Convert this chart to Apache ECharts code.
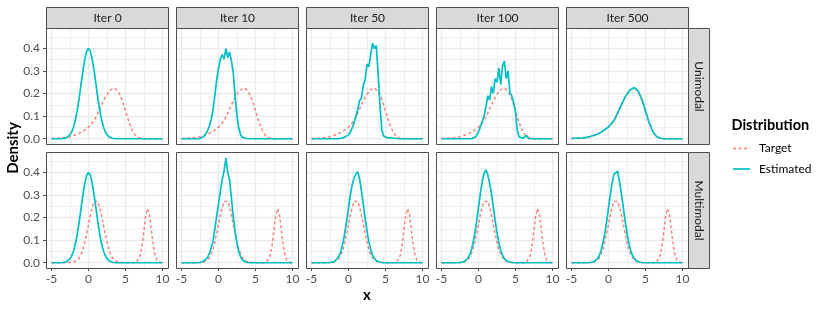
<!DOCTYPE html>
<html><head><meta charset="utf-8">
<script src="https://cdn.jsdelivr.net/npm/echarts@6/dist/echarts.min.js"></script>
<style>html,body{margin:0;padding:0;background:#fff}#c{width:824px;height:309px}</style>
</head><body><div id="c"></div>
<script>
// ---------- data ----------
const xs = [-5,-4.75,-4.5,-4.25,-4,-3.75,-3.5,-3.25,-3,-2.75,-2.5,-2.25,-2,-1.75,-1.5,-1.25,-1,-0.75,-0.5,-0.25,0,0.25,0.5,0.75,1,1.25,1.5,1.75,2,2.25,2.5,2.75,3,3.25,3.5,3.75,4,4.25,4.5,4.75,5,5.25,5.5,5.75,6,6.25,6.5,6.75,7,7.25,7.5,7.75,8,8.25,8.5,8.75,9,9.25,9.5,9.75,10];
const iterLabels = ['Iter 0','Iter 10','Iter 50','Iter 100','Iter 500'];
const rowLabels = ['Unimodal','Multimodal'];
const seriesNames = ['Target','Estimated'];
const xTicks = [-5,0,5,10];
const xMinor = [-2.5,2.5,7.5];
const yTicks = [0,0.1,0.2,0.3,0.4];
const yMinor = [0.05,0.15,0.25,0.35,0.45];

const targetUni = [
0.001,0.001,0.002,0.002,
0.003,0.003,0.004,0.005,
0.006,0.008,0.009,0.011,
0.014,0.017,0.020,0.024,
0.028,0.033,0.039,0.045,
0.051,0.059,0.069,0.082,
0.096,0.113,0.132,0.150,
0.167,0.182,0.196,0.208,
0.217,0.222,0.224,0.219,
0.209,0.194,0.174,0.150,
0.123,0.096,0.071,0.050,
0.032,0.019,0.010,0.005,
0.002,0.001,0,0,
0,0,0,0,
0,0,0,0,
0];
const targetMulti = [
0,0,0,0,
0,0,0,0,
0,0,0.001,0.001,
0.003,0.006,0.012,0.022,
0.038,0.060,0.091,0.128,
0.169,0.211,0.246,0.271,
0.279,0.271,0.246,0.211,
0.169,0.128,0.091,0.060,
0.038,0.022,0.012,0.006,
0.003,0.001,0.001,0,
0,0,0,0,
0,0.001,0.003,0.011,
0.032,0.078,0.145,0.211,
0.239,0.211,0.145,0.078,
0.032,0.011,0.003,0.001,
0];
const estUni0 = [
0,0,0,0,
0,0,0.001,0.002,
0.004,0.009,0.018,0.032,
0.054,0.086,0.130,0.183,
0.242,0.301,0.352,0.387,
0.399,0.387,0.352,0.301,
0.242,0.183,0.130,0.086,
0.054,0.032,0.018,0.009,
0.004,0.002,0.001,0,
0,0,0,0,
0,0,0,0,
0,0,0,0,
0,0,0,0,
0,0,0,0,
0,0,0,0,
0];
const estUni10 = [
0,0,0,0,
0,0,0,0,
0,0.001,0.001,0.003,
0.010,0.020,0.034,0.055,
0.085,0.125,0.190,0.258,
0.312,0.352,0.372,0.352,
0.398,0.358,0.383,0.343,
0.290,0.185,0.100,0.045,
0.016,0.006,0.002,0.001,
0,0,0,0,
0,0,0,0,
0,0,0,0,
0,0,0,0,
0,0,0,0,
0,0,0,0,
0];
const estUni50 = [
0,0,0,0,
0,0,0,0,
0,0,0,0,
0,0,0,0.001,
0.002,0.004,0.007,0.012,
0.018,0.030,0.048,0.070,
0.098,0.130,0.168,0.180,
0.236,0.262,0.330,0.318,
0.372,0.422,0.398,0.412,
0.290,0.150,0.040,0.012,
0.006,0.004,0.003,0.004,
0.012,0.002,0.001,0,
0,0,0,0,
0,0,0,0,
0,0,0,0,
0];
const estUni100 = [
0,0,0,0,
0,0,0,0,
0,0,0,0,
0,0,0,0,
0,0.002,0.006,0.015,
0.030,0.052,0.058,0.100,
0.140,0.190,0.170,0.230,
0.200,0.265,0.250,0.312,
0.240,0.322,0.343,0.265,
0.300,0.200,0.190,0.160,
0.120,0.035,0.008,0.003,
0.002,0.002,0.014,0.001,
0,0,0,0,
0,0,0,0,
0,0,0,0,
0];
const estUni500 = [
0.001,0.001,0.002,0.002,
0.003,0.004,0.004,0.006,
0.006,0.009,0.010,0.011,
0.015,0.019,0.021,0.026,
0.029,0.034,0.041,0.047,
0.052,0.060,0.071,0.082,
0.098,0.114,0.134,0.151,
0.168,0.184,0.197,0.209,
0.218,0.224,0.226,0.221,
0.210,0.193,0.175,0.151,
0.122,0.097,0.070,0.052,
0.031,0.020,0.010,0.006,
0.002,0.001,0,0,
0,0,0,0,
0,0,0,0,
0];
const estMulti0 = [
0,0,0,0,
0,0,0.001,0.002,
0.004,0.009,0.018,0.032,
0.054,0.086,0.130,0.183,
0.242,0.301,0.352,0.387,
0.399,0.387,0.352,0.301,
0.242,0.183,0.130,0.086,
0.054,0.032,0.018,0.009,
0.004,0.002,0.001,0,
0,0,0,0,
0,0,0,0,
0,0,0,0,
0,0,0,0,
0,0,0,0,
0,0,0,0,
0];
const estMulti10 = [
0,0,0,0,
0,0,0,0,
0,0,0.001,0.003,
0.007,0.013,0.022,0.040,
0.066,0.095,0.150,0.205,
0.260,0.318,0.368,0.405,
0.462,0.400,0.365,0.285,
0.200,0.135,0.085,0.048,
0.024,0.011,0.005,0.002,
0.001,0,0,0,
0,0,0,0,
0,0,0,0,
0,0,0,0,
0,0,0,0,
0,0,0,0,
0];
const estMulti50 = [
0,0,0,0,
0,0,0,0,
0,0,0.001,0.002,
0.004,0.009,0.018,0.032,
0.054,0.088,0.132,0.185,
0.243,0.300,0.345,0.375,
0.392,0.402,0.370,0.318,
0.258,0.196,0.140,0.093,
0.058,0.034,0.019,0.010,
0.005,0.002,0.001,0,
0,0,0,0,
0,0,0,0,
0,0,0,0,
0,0,0,0,
0,0,0,0,
0];
const estMulti100 = [
0,0,0,0,
0,0,0,0,
0,0,0.001,0.002,
0.004,0.008,0.017,0.031,
0.053,0.086,0.130,0.184,
0.245,0.305,0.358,0.395,
0.410,0.390,0.352,0.305,
0.246,0.186,0.133,0.088,
0.055,0.033,0.018,0.009,
0.004,0.002,0.001,0,
0,0,0,0,
0,0,0,0,
0,0,0,0,
0,0,0,0,
0,0,0,0,
0];
const estMulti500 = [
0,0,0,0,
0,0,0,0,
0,0,0.001,0.002,
0.004,0.009,0.018,0.032,
0.055,0.087,0.131,0.183,
0.243,0.302,0.355,0.392,
0.400,0.404,0.356,0.302,
0.243,0.184,0.131,0.086,
0.054,0.032,0.018,0.009,
0.004,0.002,0.001,0,
0,0,0,0,
0,0,0,0,
0,0,0,0,
0,0,0,0,
0,0,0,0,
0];

// ---------- layout ----------
const targets = [targetUni, targetMulti];
const estimates = [
  [estUni0, estUni10, estUni50, estUni100, estUni500],
  [estMulti0, estMulti10, estMulti50, estMulti100, estMulti500]
];
const colLeft = [46, 176, 306, 436, 566];
const panelW = 122;
const rowTop = [28, 152];
const panelH = 116;
const stripH = 21;
const FONT = 'Lato, "Noto Sans", sans-serif';
const RED = '#F8766D', TEAL = '#00BFC4', BORDER = '#4D4D4D';

const grids = [], xAxes = [], yAxes = [], series = [], graphics = [];
const pair = arr => xs.map((x, j) => [x, arr[j]]);
const gl = (key, v, minor) => ({ [key]: v, lineStyle: { color: '#EBEBEB', width: minor ? 0.8 : 1.4, type: 'solid' } });

for (let r = 0; r < 2; r++) {
  for (let c = 0; c < 5; c++) {
    const i = r * 5 + c;
    const bottom = r === 1, first = c === 0;
    grids.push({ left: colLeft[c], top: rowTop[r], width: panelW, height: panelH, containLabel: false });
    xAxes.push({
      gridIndex: i, type: 'value', min: -5.75, max: 10.75,
      axisLine: { show: false, onZero: false },
      splitLine: { show: false },
      axisTick: { show: bottom, customValues: xTicks, length: 3, lineStyle: { color: BORDER } },
      axisLabel: { show: bottom, customValues: xTicks, color: '#4D4D4D', fontFamily: FONT, fontSize: 12, margin: 5 }
    });
    yAxes.push({
      gridIndex: i, type: 'value', min: -0.0233, max: 0.4893,
      axisLine: { show: false, onZero: false },
      splitLine: { show: false },
      axisTick: { show: first, customValues: yTicks, length: 3, lineStyle: { color: BORDER } },
      axisLabel: { show: first, customValues: yTicks, color: '#4D4D4D', fontFamily: FONT, fontSize: 12, margin: 6,
        formatter: v => v.toFixed(1) }
    });
    series.push({
      type: 'line', xAxisIndex: i, yAxisIndex: i, data: [], silent: true, z: 0,
      markLine: {
        z: 0, silent: true, symbol: ['none', 'none'], animation: false, label: { show: false },
        emphasis: { disabled: true },
        data: [
          ...xMinor.map(v => gl('xAxis', v, true)),
          ...yMinor.map(v => gl('yAxis', v, true)),
          ...xTicks.map(v => gl('xAxis', v, false)),
          ...yTicks.map(v => gl('yAxis', v, false))
        ]
      }
    });
    series.push({
      name: seriesNames[0], type: 'line', xAxisIndex: i, yAxisIndex: i, z: 10,
      data: pair(targets[r]), showSymbol: false, symbol: 'none', animation: false, silent: true,
      lineStyle: { color: RED, width: 1.5, type: [3, 2.5], opacity: 0.9 }
    });
    series.push({
      name: seriesNames[1], type: 'line', xAxisIndex: i, yAxisIndex: i, z: 11,
      data: pair(estimates[r][c]), showSymbol: false, symbol: 'none', animation: false, silent: true,
      lineStyle: { color: TEAL, width: 1.7 }
    });
    graphics.push({ type: 'rect', z: 100, silent: true,
      shape: { x: colLeft[c] + 0.5, y: rowTop[r] + 0.5, width: panelW, height: panelH },
      style: { fill: 'none', stroke: BORDER, lineWidth: 1 } });
  }
}
for (let c = 0; c < 5; c++) {
  graphics.push({ type: 'rect', z: 100, silent: true,
    shape: { x: colLeft[c] + 0.5, y: rowTop[0] - stripH + 0.5, width: panelW, height: stripH },
    style: { fill: '#D9D9D9', stroke: BORDER, lineWidth: 1 } });
  graphics.push({ type: 'text', z: 101, silent: true,
    x: colLeft[c] + panelW / 2 + 0.5, y: rowTop[0] - stripH / 2 + 0.5,
    style: { text: iterLabels[c], fill: '#1A1A1A', font: '12px ' + FONT, textAlign: 'center', textVerticalAlign: 'middle' } });
}
const stripX = colLeft[4] + panelW;
for (let r = 0; r < 2; r++) {
  graphics.push({ type: 'rect', z: 100, silent: true,
    shape: { x: stripX + 0.5, y: rowTop[r] + 0.5, width: stripH, height: panelH },
    style: { fill: '#D9D9D9', stroke: BORDER, lineWidth: 1 } });
  graphics.push({ type: 'text', z: 101, silent: true,
    x: stripX + stripH / 2 + 0.5, y: rowTop[r] + panelH / 2 + 0.5, rotation: -Math.PI / 2,
    style: { text: rowLabels[r], fill: '#1A1A1A', font: '12px ' + FONT, textAlign: 'center', textVerticalAlign: 'middle' } });
}
graphics.push({ type: 'text', z: 101, silent: true, x: 13, y: 148, rotation: Math.PI / 2,
  style: { text: 'Density', fill: '#000', font: 'bold 15px ' + FONT, textAlign: 'center', textVerticalAlign: 'middle' } });
graphics.push({ type: 'text', z: 101, silent: true, x: 367, y: 295,
  style: { text: 'x', fill: '#000', font: 'bold 15px ' + FONT, textAlign: 'center', textVerticalAlign: 'middle' } });
graphics.push({ type: 'text', z: 101, silent: true, x: 731.5, y: 125,
  style: { text: 'Distribution', fill: '#000', font: 'bold 14.5px ' + FONT, textAlign: 'left', textVerticalAlign: 'middle' } });
graphics.push({ type: 'line', z: 101, silent: true, shape: { x1: 733, y1: 148.5, x2: 750, y2: 148.5 },
  style: { stroke: RED, lineWidth: 1.5, lineDash: [3, 2.5], opacity: 0.9 } });
graphics.push({ type: 'line', z: 101, silent: true, shape: { x1: 733, y1: 169, x2: 750, y2: 169 },
  style: { stroke: TEAL, lineWidth: 1.7 } });
graphics.push({ type: 'text', z: 101, silent: true, x: 759, y: 148.5,
  style: { text: seriesNames[0], fill: '#000', font: '12px ' + FONT, textAlign: 'left', textVerticalAlign: 'middle' } });
graphics.push({ type: 'text', z: 101, silent: true, x: 759, y: 169,
  style: { text: seriesNames[1], fill: '#000', font: '12px ' + FONT, textAlign: 'left', textVerticalAlign: 'middle' } });

const chart = echarts.init(document.getElementById('c'), null, { renderer: 'canvas' });
chart.setOption({
  animation: false,
  backgroundColor: '#fff',
  grid: grids, xAxis: xAxes, yAxis: yAxes, series: series,
  graphic: { elements: graphics }
});
</script></body></html>
